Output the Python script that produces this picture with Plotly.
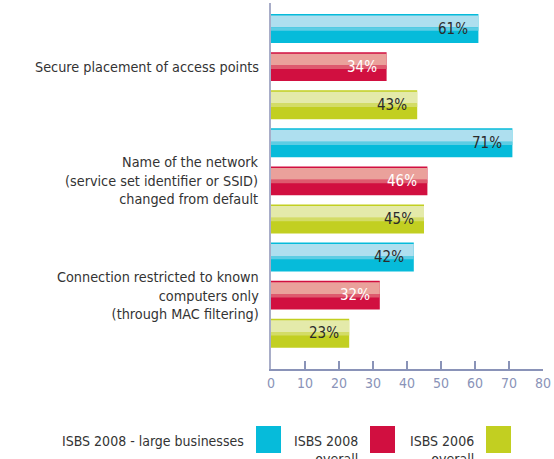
import plotly.graph_objects as go

# data (percent of businesses)
categories = [
    "Secure placement of access points",
    "Name of the network<br>(service set identifier or SSID)<br>changed from default",
    "Connection restricted to known<br>computers only<br>(through MAC filtering)",
]
series_names = ["ISBS 2008 - large businesses", "ISBS 2008<br>- overall", "ISBS 2006<br>- overall"]
large_2008 = [61, 71, 42]
overall_2008 = [34, 46, 32]
overall_2006 = [43, 45, 23]
x_ticks = [0, 10, 20, 30, 40, 50, 60, 70, 80]

FONT = "Liberation Sans Narrow, DejaVu Sans Condensed, Roboto Condensed, Arial Narrow, Roboto, sans-serif"
W, H = 554, 459
L, R, T, B = 271, 11, 3, 90

# colours: saturated bottom, light top, blend in between
styles = [
    dict(dark="#06BBDA", light="#AEDFEF", mid="#5CCDE4", txt="#2b2b2b"),
    dict(dark="#D10F40", light="#EAA19B", mid="#DE5A6E", txt="#ffffff"),
    dict(dark="#C2CF21", light="#E4EAAA", mid="#D3DC66", txt="#2b2b2b"),
]
all_series = [large_2008, overall_2008, overall_2006]


def px_to_paper_x(px):
    return (px - L) / (W - L - R)


def py_to_paper_y(py):
    return (H - B - py) / (H - B - T)


fig = go.Figure()
annotations = []
shapes = []

bw = 0.76
for j, (vals, st) in enumerate(zip(all_series, styles)):
    pos = [3 * i + j for i in range(len(vals))]
    # base bar
    fig.add_trace(go.Bar(x=vals, y=pos, orientation="h", width=bw,
                         marker=dict(color=st["dark"], line=dict(width=0)),
                         showlegend=False, hoverinfo="skip"))
    # light upper band
    fig.add_trace(go.Bar(x=vals, y=pos, orientation="h", width=0.31, offset=-0.34,
                         marker=dict(color=st["light"], line=dict(width=0)),
                         showlegend=False, hoverinfo="skip"))
    # transition band
    fig.add_trace(go.Bar(x=vals, y=pos, orientation="h", width=0.09, offset=-0.03,
                         marker=dict(color=st["mid"], line=dict(width=0)),
                         showlegend=False, hoverinfo="skip"))
    for v, p in zip(vals, pos):
        annotations.append(dict(x=v, y=p, xref="x", yref="y", text=f"{v}%",
                                showarrow=False, xanchor="right", yanchor="middle",
                                xshift=-8, font=dict(family=FONT, size=15, color=st["txt"])))

# category labels next to the middle bar of each group
for i, cat in enumerate(categories):
    annotations.append(dict(x=0, y=3 * i + 1, xref="paper", yref="y", text=cat,
                            showarrow=False, xanchor="right", yanchor="middle", align="right",
                            xshift=-10, font=dict(family=FONT, size=14.3, color="#333333")))

# legend: text left of the swatch
legend_swatch_px = [256, 370, 486]
for name, st, sx in zip(series_names, styles, legend_swatch_px):
    shapes.append(dict(type="rect", xref="paper", yref="paper",
                       x0=px_to_paper_x(sx), x1=px_to_paper_x(sx + 25),
                       y0=py_to_paper_y(453), y1=py_to_paper_y(426),
                       fillcolor=st["dark"], line=dict(width=0)))
    annotations.append(dict(x=px_to_paper_x(sx - 10), y=py_to_paper_y(431), xref="paper", yref="paper",
                            text=name, showarrow=False, xanchor="right", yanchor="top", align="right",
                            font=dict(family=FONT, size=14, color="#333333")))

fig.update_layout(
    width=W, height=H,
    margin=dict(l=L, r=R, t=T, b=B),
    paper_bgcolor="white", plot_bgcolor="white",
    barmode="overlay",
    showlegend=False,
    annotations=annotations,
    shapes=shapes,
)
fig.update_xaxes(range=[0, 80], tickvals=x_ticks, ticks="inside", ticklen=8, tickwidth=1.5,
                 tickcolor="#8A93B8", showline=True, linecolor="#8A93B8", linewidth=1.5,
                 showgrid=False, zeroline=False,
                 tickfont=dict(family=FONT, size=14, color="#8A93B8"))
fig.update_yaxes(range=[8.94, -0.67], showticklabels=False, ticks="", showline=True,
                 linecolor="#A8ADC8", linewidth=1.5, showgrid=False, zeroline=False)

# page has a default 8px body margin; drop it so the chart sits at the window corner
fig.write_html("out.html", config={"displayModeBar": False},
               post_script="document.body.style.margin='0';")
